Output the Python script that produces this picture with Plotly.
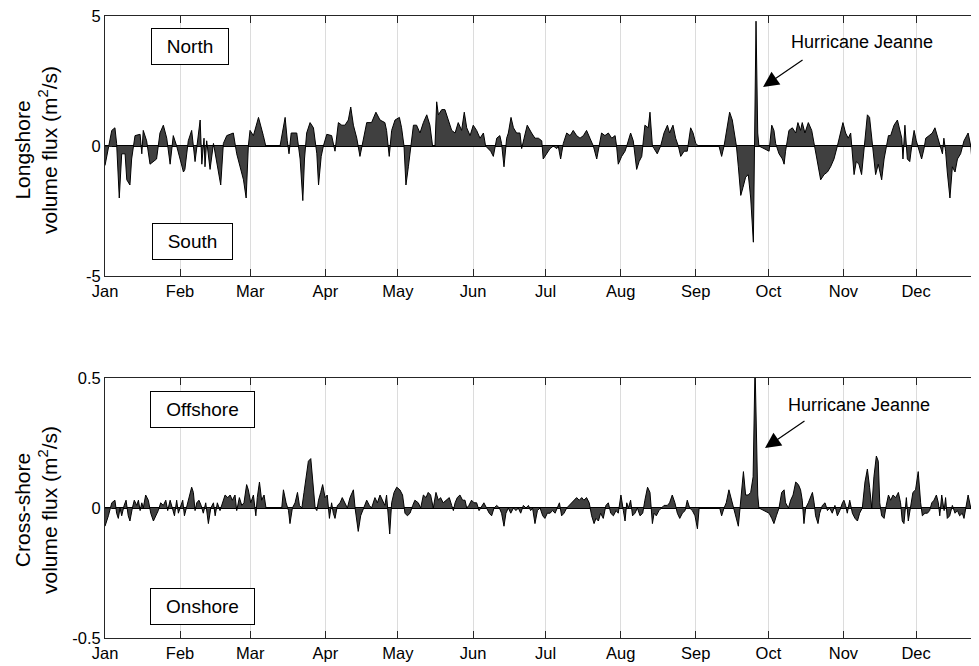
import plotly.graph_objects as go

# ---------------- data (day of year 2004, value) ----------------
long_day = [0, 1.4, 2.8, 4.1, 4.8, 5.9, 6.9, 8.3, 9.0, 10.3, 11.0, 12.4, 14.5, 15.2, 15.8, 17.2,
            18.6, 21.3, 22.7, 24.1, 25.5, 26.9, 28.2, 29.6, 32.4, 33.0, 34.4, 35.8, 37.2, 39.3,
            40.0, 40.9, 41.3, 42.0, 43.4, 44.8, 46.8, 47.8, 48.9, 50.3, 53.0, 54.4, 57.2, 58.3,
            59.2, 59.9, 61.3, 63.4, 65.4, 66.4, 72.3, 74.4, 75.3, 76.0, 76.9, 79.2, 80.6, 81.7,
            82.4, 83.3, 84.7, 86.1, 87.5, 88.2, 89.3, 90.2, 91.6, 93.6, 95.0, 96.4, 97.8, 99.1,
            100.5, 101.5, 102.6, 104.0, 105.3, 106.7, 108.1, 110.1, 111.9, 113.6, 115.6, 116.3,
            117.4, 118.4, 119.8, 121.6, 122.5, 123.5, 124.3, 125.3, 126.3, 127.4, 128.7, 130.1,
            131.5, 132.9, 134.2, 135.3, 136.3, 137.0, 137.7, 139.1, 140.4, 141.8, 143.2, 144.6,
            145.9, 147.3, 148.4, 149.4, 150.8, 152.1, 153.5, 154.9, 156.3, 157.2, 158.3, 159.3,
            160.4, 161.8, 163.1, 163.8, 164.8, 165.9, 166.6, 167.7, 168.7, 170.0, 171.4, 172.1,
            173.1, 174.4, 176.2, 177.6, 179.0, 180.4, 181.0, 182.4, 183.8, 185.2, 186.6, 187.2,
            188.2, 189.3, 190.7, 192.1, 193.4, 194.8, 196.2, 197.6, 198.9, 200.3, 201.7, 203.1,
            204.2, 205.1, 206.5, 207.9, 209.3, 210.7, 211.3, 212.0, 213.4, 214.8, 215.5, 217.1,
            218.2, 218.9, 219.6, 220.6, 221.7, 223.0, 224.4, 225.1, 226.1, 226.8, 228.1, 229.5,
            230.9, 232.3, 233.2, 234.6, 235.7, 236.8, 237.8, 239.2, 240.5, 241.9, 242.9, 244.0,
            245.1, 253.6, 254.7, 255.7, 257.1, 258.0, 259.1, 260.2, 260.8, 261.6, 262.6, 263.5,
            264.6, 265.7, 266.7, 267.8, 268.3, 268.9, 269.6, 270.1, 274.3, 275.4, 276.3, 277.0,
            278.4, 279.8, 280.5, 281.1, 282.5, 283.9, 285.3, 286.2, 287.3, 288.0, 289.1, 290.5,
            291.9, 293.1, 294.2, 295.6, 297.0, 298.4, 299.7, 301.1, 302.5, 303.9, 304.8, 305.9,
            307.0, 308.0, 308.7, 309.4, 310.3, 311.4, 312.5, 313.5, 314.9, 315.8, 316.7, 317.6,
            318.3, 319.4, 320.8, 321.8, 322.7, 323.6, 324.5, 325.9, 327.3, 328.2, 329.1, 329.6,
            330.4, 331.4, 332.4, 333.5, 334.2, 335.1, 336.2, 337.3, 338.3, 339.0, 340.4, 341.7,
            342.8, 343.8, 345.2, 345.9, 346.5, 347.2, 347.9, 349.0, 350.0, 351.1, 352.1, 353.4,
            354.8, 356.5, 357.6, 358.3, 359.0, 359.9, 361.0]
long_val = [-0.75, 0, 0.6, 0.7, 0.1, -2.0, -0.3, -0.3, -1.3, -1.5, -0.5, 0.4, 0.45, -0.3, 0.6, 0.2,
            -0.7, -0.5, 0.5, 0.8, 0.3, -0.7, 0.4, 0, -1.0, -0.9, 0.2, 0.6, -0.6, 1.0,
            -0.7, 0.3, -0.8, 0.2, -0.9, 0.1, -1.0, -1.5, 0.1, 0.4, 0.5, -0.3, -1.3, -2.0,
            0, 0.6, 0.4, 1.1, 0.4, 0, 0, 1.1, 0.2, -0.3, 0.5, 0.5, -0.5, -2.1,
            -0.5, 0.5, 0.9, 0.7, -0.3, -1.5, -0.4, 0, 0.45, 0.4, -0.2, 0.9, 0.8, 0.8,
            1.0, 1.5, 0.8, 0.3, -0.4, 0.2, 0.9, 0.9, 1.3, 1.0, 0.9, 0.6,
            -0.4, 0.6, 1.0, 1.1, 0.7, 0, -1.5, -0.8, 0, 0.8, 0.8, 0.5,
            0.9, 1.2, 0.8, 0, 0, 1.7, 1.2, 1.4, 1.4, 1.0, 0.6, 0.5,
            0.9, 0.6, 1.3, 0.7, 0.4, 0.8, 0.6, 0.3, 0.5, 0, -0.1, -0.2,
            -0.4, 0.3, 0.4, 0.1, -0.8, 0.3, 0.5, 1.1, 0.7, 0.5, 0.5, -0.1,
            0.3, 0.8, 0.5, 0.3, 0.3, 0.2, -0.5, -0.3, -0.1, 0, -0.1, 0,
            -0.5, 0.1, 0.5, 0.4, 0.6, 0.4, 0.3, 0.4, 0.6, 0.3, 0, -0.5,
            0, 0.5, 0.4, 0.5, 0.3, 0.4, 0, -0.7, -0.4, -0.2, 0, 0.5,
            0.2, -0.3, -0.9, -0.6, -0.4, 0.8, 0.7, 1.3, 0, -0.1, -0.3, 0,
            0.5, 0.8, 0.5, 0.8, 0.3, 0, -0.4, -0.2, -0.2, 0.7, 0.5, 0.1,
            0, 0, -0.4, 0, 0.8, 1.3, 1.0, 0.3, 0, -0.8, -1.9, -1.6,
            -1.2, -1.1, -2.0, -3.7, 0, 4.8, 0.5, 0, -0.2, 0.8, 0.6, 0.1,
            -0.3, -0.5, -0.7, -0.2, 0.6, 0.7, 0.5, 0.9, 0.6, 0.9, 0.5, 0.9,
            0.6, 0, -0.7, -1.3, -1.1, -1.0, -0.8, -0.5, 0, 0.5, 0.9, 0.5,
            0.3, 0.5, -0.5, -1.1, -0.6, -0.7, -1.1, 0, 1.2, 1.1, 0.2, -0.5,
            -1.1, -0.7, -1.3, -0.5, 0, 0.4, 0.4, 0.8, 1.0, 0.7, 0.3, -0.5,
            0.8, -0.5, -0.6, 0.2, 0.6, 0.2, -0.2, -0.5, -0.1, 0.3, 0.4, 0.5,
            0.7, 0.4, 0, -0.3, 0.3, -0.2, -1.0, -2.0, -0.8, -1.0, -0.5, -0.3,
            0.2, 0.5, 0, -0.8, -1.2, -0.7, -1.0]

cross_day = [0, 1.4, 2.8, 4.1, 4.8, 5.5, 6.2, 6.9, 7.9, 8.7, 9.6, 10.3, 11.3, 12.1, 13.1, 13.8,
             14.5, 15.2, 15.8, 16.8, 17.9, 18.9, 20.0, 21.1, 22.0, 23.0, 24.1, 25.1, 25.9, 26.9,
             27.8, 28.7, 29.6, 30.3, 31.0, 32.1, 32.8, 33.7, 34.7, 35.8, 36.5, 37.2, 37.9, 38.8,
             39.7, 40.6, 41.6, 42.7, 43.7, 44.8, 45.5, 46.4, 47.5, 48.6, 49.6, 50.7, 51.7, 52.6,
             53.7, 54.4, 55.5, 56.5, 57.4, 58.5, 59.2, 60.2, 61.3, 62.3, 62.9, 63.8, 64.7, 65.7,
             66.5, 73.0, 73.7, 74.8, 75.8, 76.4, 77.4, 78.5, 79.5, 80.3, 81.3, 82.2, 83.1, 84.0,
             85.0, 86.1, 86.8, 87.5, 88.2, 89.1, 89.9, 90.9, 91.8, 92.7, 93.6, 94.3, 95.0, 96.0,
             97.1, 98.0, 99.1, 100.1, 101.2, 102.6, 103.3, 104.0, 104.6, 105.6, 106.7, 108.1,
             109.2, 110.1, 111.5, 112.5, 113.6, 114.7, 115.6, 116.3, 117.0, 117.6, 118.4, 119.4,
             120.5, 121.8, 122.9, 123.9, 124.9, 126.0, 127.1, 128.0, 129.4, 130.4, 131.5, 132.6,
             133.5, 134.5, 135.6, 136.7, 137.7, 138.6, 139.7, 141.1, 142.2, 143.2, 143.9, 144.6,
             145.5, 146.6, 147.7, 148.7, 149.4, 150.3, 151.4, 152.4, 153.5, 154.5, 155.6, 156.5,
             157.6, 158.7, 159.7, 160.7, 161.8, 162.9, 163.8, 164.8, 165.6, 166.6, 167.6, 168.7,
             169.8, 170.7, 171.7, 172.8, 173.9, 174.9, 175.8, 176.6, 177.6, 178.6, 179.7, 180.8,
             181.7, 182.7, 183.8, 184.9, 185.9, 186.8, 187.7, 188.6, 189.6, 190.7, 191.8, 192.8,
             193.7, 194.8, 195.9, 196.9, 197.8, 198.9, 200.0, 201.0, 202.0, 202.8, 203.8, 204.7,
             205.8, 206.9, 207.9, 208.9, 210.0, 211.1, 212.0, 213.1, 214.1, 214.8, 215.5, 216.2,
             217.1, 217.9, 218.9, 219.9, 221.0, 222.1, 223.0, 224.1, 225.1, 226.1, 226.8, 227.7,
             228.8, 229.9, 230.9, 232.3, 233.2, 234.3, 235.4, 236.4, 237.4, 238.5, 239.6, 240.5,
             241.5, 242.6, 243.7, 244.7, 245.4, 253.9, 254.7, 255.7, 256.6, 257.7, 258.8, 259.8,
             260.5, 261.6, 262.3, 263.0, 263.7, 264.6, 265.7, 266.7, 267.7, 268.5, 269.0, 269.6,
             270.1, 274.3, 275.4, 276.3, 277.3, 278.4, 279.5, 280.5, 281.1, 282.3, 283.2, 284.2,
             285.3, 286.4, 287.3, 288.0, 288.7, 289.4, 290.5, 291.5, 292.2, 292.9, 293.5, 294.5,
             295.2, 296.3, 297.4, 298.4, 299.3, 300.4, 301.5, 302.5, 303.5, 304.6, 305.2, 305.9,
             306.6, 307.6, 308.7, 309.8, 310.8, 311.7, 312.8, 313.9, 314.9, 315.8, 316.7, 317.6,
             318.6, 319.4, 320.0, 320.8, 321.8, 322.7, 323.6, 324.5, 325.5, 326.6, 327.7, 328.6,
             329.3, 330.0, 331.0, 331.8, 332.8, 333.7, 334.8, 335.9, 336.9, 337.6, 338.7, 339.7,
             340.6, 341.5, 342.4, 343.4, 344.2, 344.8, 345.6, 346.6, 347.2, 347.9, 348.9, 350.0,
             351.1, 352.1, 353.0, 354.1, 354.8, 355.5, 356.5, 357.6, 358.5, 359.4, 360.3, 361.0]
cross_val = [-0.07, -0.03, 0.02, 0.03, -0.02, -0.04, 0.0, -0.03, 0.01, 0.03, -0.03, -0.05, 0.0, 0.03, 0.01, 0.03,
             -0.01, 0.02, 0.0, 0.05, 0.03, -0.02, -0.05, -0.03, -0.01, 0.02, 0.01, 0.03, -0.01, 0.03,
             0.0, -0.03, 0.03, -0.02, 0.0, 0.03, -0.03, 0.0, 0.04, 0.08, 0.06, -0.01, 0.02, 0.03,
             0.01, -0.02, 0.02, -0.06, 0.0, 0.02, -0.03, 0.02, -0.01, 0.02, 0.05, 0.04, 0.05, 0.03,
             0.05, -0.01, 0.04, 0.01, 0.02, 0.09, 0.07, 0.02, 0.05, -0.03, 0.04, 0.1, 0.03, 0.05,
             0.0, 0.0, 0.07, 0.02, -0.01, -0.06, 0.0, 0.02, 0.06, 0.01, 0.0, 0.06, 0.12, 0.18,
             0.19, 0.08, 0.0, -0.01, 0.03, 0.06, 0.09, 0.04, 0.05, -0.04, 0.02, -0.02, -0.04, 0.01,
             0.02, 0.04, 0.02, 0.0, 0.04, 0.07, 0.0, -0.05, -0.09, -0.03, 0.0, 0.03,
             0.01, 0.0, 0.04, 0.02, 0.05, 0.03, 0.01, 0.05, -0.02, -0.1, 0.02, 0.06,
             0.08, 0.07, 0.05, -0.02, -0.03, -0.02, 0.01, 0.03, 0.02, 0.0, 0.05, 0.04,
             0.06, 0.05, 0.0, 0.06, 0.03, 0.04, 0.02, 0.03, 0.04, 0.01, -0.01, 0.02,
             0.04, 0.05, 0.03, 0.03, 0.0, 0.01, 0.03, 0.02, 0.02, -0.01, 0.01, 0.02,
             0.0, -0.02, -0.03, 0.0, 0.01, 0.0, -0.02, -0.07, -0.02, 0.0, -0.02, 0.0,
             -0.01, 0.0, -0.02, 0.01, 0.0, 0.01, -0.01, 0.0, -0.06, -0.01, 0.0, -0.03,
             -0.04, -0.02, -0.02, -0.01, -0.02, 0.0, 0.02, -0.03, -0.02, 0.0, 0.01, 0.02,
             0.03, 0.04, 0.03, 0.04, 0.03, 0.04, 0.02, -0.03, -0.06, -0.04, -0.05, -0.02,
             -0.04, 0.01, 0.02, -0.02, -0.03, -0.01, -0.02, 0.05, -0.01, -0.05, 0.02, 0.0,
             0.03, -0.03, -0.02, 0.0, -0.03, -0.02, 0.03, 0.08, 0.06, -0.06, -0.02, -0.03,
             -0.01, 0.0, 0.01, 0.01, 0.02, 0.05, 0.02, -0.02, -0.04, -0.02, -0.01, 0.03,
             0.0, -0.01, -0.03, -0.08, 0.0, 0.0, -0.03, 0.0, 0.02, 0.07, 0.03, 0.0,
             -0.03, -0.07, 0.0, 0.08, 0.14, 0.05, 0.05, 0.06, 0.12, 0.55, 0.3, 0.05,
             0.0, -0.02, -0.04, -0.06, -0.03, 0.0, 0.06, 0.07, 0.02, 0.0, 0.03, 0.05,
             0.1, 0.09, 0.07, 0.03, -0.06, 0.0, 0.02, 0.04, 0.06, 0.02, -0.03, -0.06,
             -0.02, 0.01, 0.02, -0.01, 0.0, -0.02, 0.01, -0.03, -0.01, 0.02, 0.03, 0.01,
             -0.02, 0.03, -0.02, -0.04, -0.05, -0.02, 0.0, 0.1, 0.15, 0.08, 0.0, 0.12,
             0.2, 0.18, 0.02, -0.03, -0.04, 0.01, 0.05, 0.03, 0.05, 0.04, 0.06, 0.02,
             -0.05, -0.06, 0.04, -0.05, 0.01, 0.06, 0.07, 0.14, 0.02, -0.03, -0.02, -0.02,
             -0.01, 0.02, 0.03, 0.05, 0.02, -0.03, 0.05, -0.01, 0.04, -0.04, -0.03, 0.01,
             -0.02, -0.01, -0.03, -0.02, -0.04, 0.0, 0.05, 0.0, -0.02, 0.0, 0.08, 0.06]

month_days = [0, 31, 60, 91, 121, 152, 182, 213, 244, 274, 305, 335]
month_labels = ["Jan", "Feb", "Mar", "Apr", "May", "Jun", "Jul", "Aug", "Sep", "Oct", "Nov", "Dec"]
long_ticks = [-5, 0, 5]
long_ticktext = ["-5", "0", "5"]
cross_ticks = [-0.5, 0, 0.5]
cross_ticktext = ["-0.5", "0", "0.5"]

FONT = "Liberation Sans, Arial, sans-serif"
AX = "#262626"
FILL = "#404040"

fig = go.Figure()
fig.add_trace(go.Scatter(x=long_day, y=long_val, mode="lines", fill="tozeroy",
                         fillcolor=FILL, line=dict(color="black", width=1),
                         xaxis="x", yaxis="y", showlegend=False, hoverinfo="skip"))
fig.add_trace(go.Scatter(x=cross_day, y=cross_val, mode="lines", fill="tozeroy",
                         fillcolor=FILL, line=dict(color="black", width=1),
                         xaxis="x2", yaxis="y2", showlegend=False, hoverinfo="skip"))

xcommon = dict(range=[0, 361], tickmode="array", tickvals=month_days, ticktext=month_labels,
               ticks="inside", ticklen=7, tickcolor=AX, showline=True, linecolor=AX,
               linewidth=1, mirror="ticks", showgrid=True, gridcolor="#dcdcdc", gridwidth=1,
               zeroline=False, ticklabeloverflow="allow",
               tickfont=dict(family=FONT, size=16.5, color="black"))
ycommon = dict(ticks="inside", ticklen=7, tickcolor=AX, showline=True, linecolor=AX,
               linewidth=1, mirror=False, showgrid=False, zeroline=True,
               zerolinecolor="black", zerolinewidth=1.5, ticklabeloverflow="allow",
               tickfont=dict(family=FONT, size=16.5, color="black"))

# page body has an 8px margin -> figure is 8px smaller than the window on each side used
fig.update_layout(
    width=971, height=658,
    margin=dict(l=97, r=0, t=8, b=28),
    plot_bgcolor="white", paper_bgcolor="white",
    xaxis=dict(domain=[0, 1], anchor="y", **xcommon),
    yaxis=dict(domain=[0.582, 1.0], anchor="x", range=[-5, 5], tickmode="array",
               tickvals=long_ticks, ticktext=long_ticktext, **ycommon),
    xaxis2=dict(domain=[0, 1], anchor="y2", **xcommon),
    yaxis2=dict(domain=[0, 0.418], anchor="x2", range=[-0.5, 0.5], tickmode="array",
                tickvals=cross_ticks, ticktext=cross_ticktext, **ycommon),
)

ann = []
# y-axis titles
ann.append(dict(text="Longshore<br>volume flux (m<sup>2</sup>/s)", xref="paper", yref="paper",
                x=(36 - 105) / 874, y=(638 - 150) / 622, xanchor="center", yanchor="middle",
                textangle=-90, showarrow=False, font=dict(family=FONT, size=21, color="black")))
ann.append(dict(text="Cross-shore<br>volume flux (m<sup>2</sup>/s)", xref="paper", yref="paper",
                x=(36 - 105) / 874, y=(638 - 510) / 622, xanchor="center", yanchor="middle",
                textangle=-90, showarrow=False, font=dict(family=FONT, size=21, color="black")))
# boxed labels
box = dict(showarrow=False, bordercolor="black", borderwidth=1, bgcolor="white",
           borderpad=0, font=dict(family=FONT, size=19, color="black"), height=35)
ann.append(dict(text="North", xref="x", yref="y", x=35.1, y=3.83, width=76, **box))
ann.append(dict(text="South", xref="x", yref="y", x=36.2, y=-3.69, width=79, **box))
ann.append(dict(text="Offshore", xref="x2", yref="y2", x=40.3, y=0.377, width=103, **box))
ann.append(dict(text="Onshore", xref="x2", yref="y2", x=40.3, y=-0.377, width=103, **box))
# hurricane labels + arrows
for xr, yr, tx, ty, hx, hy in [("x", "y", 312.5, 4.0, 271.8, 2.27),
                               ("x2", "y2", 311.6, 0.396, 272.6, 0.231)]:
    ann.append(dict(text="Hurricane Jeanne", xref=xr, yref=yr, x=tx, y=ty, showarrow=False,
                    font=dict(family=FONT, size=18, color="black")))
    ann.append(dict(text="", xref=xr, yref=yr, x=hx, y=hy, ax=41, ay=-28, showarrow=True,
                    arrowhead=2, arrowsize=2.6, arrowwidth=1.2, arrowcolor="black"))
fig.update_layout(annotations=ann)

fig.write_html("out.html")
